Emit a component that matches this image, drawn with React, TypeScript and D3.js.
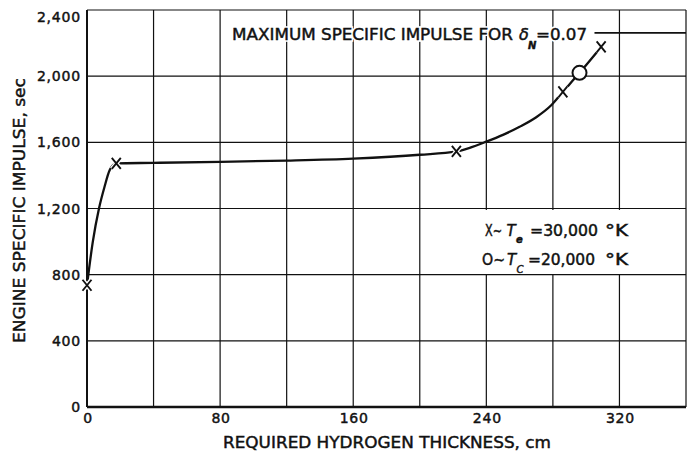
import * as d3 from 'd3'

// thickness (cm) vs engine specific impulse (sec)
const curveX = [0, 3.5, 7.2, 10.5, 13.6, 17.6, 40, 80, 120, 160, 200, 222, 230, 240, 250, 260, 270, 279, 286, 296, 309]
const curveY = [736, 1000, 1200, 1330, 1431, 1473, 1476, 1482, 1490, 1502, 1525, 1545, 1567, 1604, 1645, 1694, 1752, 1824, 1905, 2020, 2177]

// X markers: Te = 30,000 K
const crossX = [0, 17.6, 222, 286, 309]
const crossY = [736, 1473, 1545, 1905, 2177]

// O marker: Tc = 20,000 K
const circleX = [296]
const circleY = [2020]

// maximum specific impulse line
const maxX = [305, 360]
const maxY = [2262, 2262]

const xTicks = [0, 80, 160, 240, 320]
const yTicks = [0, 400, 800, 1200, 1600, 2000, 2400]
const yTickLabels = ['0', '400', '800', '1,200', '1,600', '2,000', '2,400']
const xGrid = [40, 80, 120, 160, 200, 240, 280, 320, 360]
const yGrid = [400, 800, 1200, 1600, 2000, 2400]

const W = 693
const H = 455
const FONT = '"DejaVu Sans", "Liberation Sans", sans-serif'
const INK = '#111'

function Title() {
  return (
    <text y={40}>
      <tspan x={232} textLength={281} lengthAdjust="spacingAndGlyphs">MAXIMUM SPECIFIC IMPULSE FOR</tspan>
      <tspan x={519} fontStyle="italic">δ</tspan>
      <tspan x={528} y={49} fontSize={10} fontStyle="italic" fontWeight="bold">N</tspan>
      <tspan x={536} y={40} textLength={51} lengthAdjust="spacingAndGlyphs">=0.07</tspan>
    </text>
  )
}

export default function App() {
  const x = d3.scaleLinear().domain([0, 360]).range([87, 686])
  const y = d3.scaleLinear().domain([0, 2400]).range([407, 10])

  const pts = curveX.map((v, i) => [v, curveY[i]] as [number, number])
  const line = d3.line<[number, number]>()
    .x(d => x(d[0]))
    .y(d => y(d[1]))
    .curve(d3.curveMonotoneX)

  return (
    <svg width={W} height={H} style={{ position: 'absolute', left: 0, top: 0, background: '#fff' }}
      fontFamily={FONT} fill={INK}>
      <rect width={W} height={H} fill="#fff" />

      {/* grid */}
      {xGrid.map(v => (
        <line key={'gx' + v} x1={x(v)} x2={x(v)} y1={y(0)} y2={y(2400)} stroke={INK} strokeWidth={1.2} />
      ))}
      {yGrid.map(v => (
        <line key={'gy' + v} x1={x(0)} x2={x(360)} y1={y(v)} y2={y(v)} stroke={INK} strokeWidth={1.2} />
      ))}

      {/* axes */}
      <line x1={x(0)} x2={x(0)} y1={y(0)} y2={y(2400)} stroke={INK} strokeWidth={2} />
      <line x1={x(0)} x2={x(360)} y1={y(0)} y2={y(0)} stroke={INK} strokeWidth={2.5} />

      {/* legend box */}
      <rect x={474} y={210} width={211} height={64} fill="#fff" />

      {/* max line */}
      <line x1={x(maxX[0])} x2={x(maxX[1])} y1={y(maxY[0])} y2={y(maxY[1])} stroke={INK} strokeWidth={1.8} />

      {/* curve */}
      <path d={line(pts) ?? ''} fill="none" stroke={INK} strokeWidth={2.3} />

      {/* markers */}
      {crossX.map((v, i) => {
        const cx = x(v), cy = y(crossY[i])
        const d = `M${cx - 4.5},${cy - 5.5}L${cx + 4.5},${cy + 5.5}M${cx + 4.5},${cy - 5.5}L${cx - 4.5},${cy + 5.5}`
        return (
          <g key={'c' + i}>
            <path d={d} stroke="#fff" strokeWidth={4.5} />
            <path d={d} stroke={INK} strokeWidth={1.9} />
          </g>
        )
      })}
      {circleX.map((v, i) => (
        <circle key={'o' + i} cx={x(v)} cy={y(circleY[i])} r={7} fill="#fff" stroke={INK} strokeWidth={2} />
      ))}

      <g stroke={INK} strokeWidth={0.45}>
        {/* tick labels */}
        {yTicks.map((v, i) => (
          <text key={'yt' + v} x={81} y={v === 2400 ? y(v) + 7 : y(v)} dy="0.36em" textAnchor="end"
            fontSize={14} letterSpacing={0.8}>{yTickLabels[i]}</text>
        ))}
        {xTicks.map(v => (
          <text key={'xt' + v} x={x(v) + 1} y={423} textAnchor="middle" fontSize={14} letterSpacing={0.8}>{v}</text>
        ))}

        {/* axis titles */}
        <text x={387} y={448} textAnchor="middle" fontSize={15.5} textLength={328} lengthAdjust="spacingAndGlyphs">
          REQUIRED HYDROGEN THICKNESS, cm
        </text>
        <text transform="translate(25,210.5) rotate(-90)" textAnchor="middle" fontSize={15.5} textLength={265}
          lengthAdjust="spacingAndGlyphs">
          ENGINE SPECIFIC IMPULSE, sec
        </text>
      </g>

      {/* annotation: white halo breaks the grid behind the letters */}
      <g fontSize={16} stroke="#fff" strokeWidth={3.5} fill="#fff">
        <Title />
      </g>
      <g fontSize={16} stroke={INK} strokeWidth={0.45}>
        <Title />
      </g>

      {/* legend */}
      <g fontSize={15} stroke={INK} strokeWidth={0.45}>
        <text y={236}>
          <tspan x={485} textLength={17} lengthAdjust="spacingAndGlyphs">X~</tspan>
          <tspan x={506.5} fontStyle="italic">T</tspan>
          <tspan x={516} y={243} fontSize={10} fontStyle="italic" fontWeight="bold">e</tspan>
          <tspan x={530} y={236} textLength={68} lengthAdjust="spacingAndGlyphs">=30,000</tspan>
          <tspan x={605} textLength={23} lengthAdjust="spacingAndGlyphs">°K</tspan>
        </text>
        <text y={265}>
          <tspan x={482} textLength={23} lengthAdjust="spacingAndGlyphs">O~</tspan>
          <tspan x={507} fontStyle="italic">T</tspan>
          <tspan x={516.5} y={273} fontSize={10} fontStyle="italic">C</tspan>
          <tspan x={528} y={265} textLength={67} lengthAdjust="spacingAndGlyphs">=20,000</tspan>
          <tspan x={605} textLength={23} lengthAdjust="spacingAndGlyphs">°K</tspan>
        </text>
      </g>
    </svg>
  )
}
